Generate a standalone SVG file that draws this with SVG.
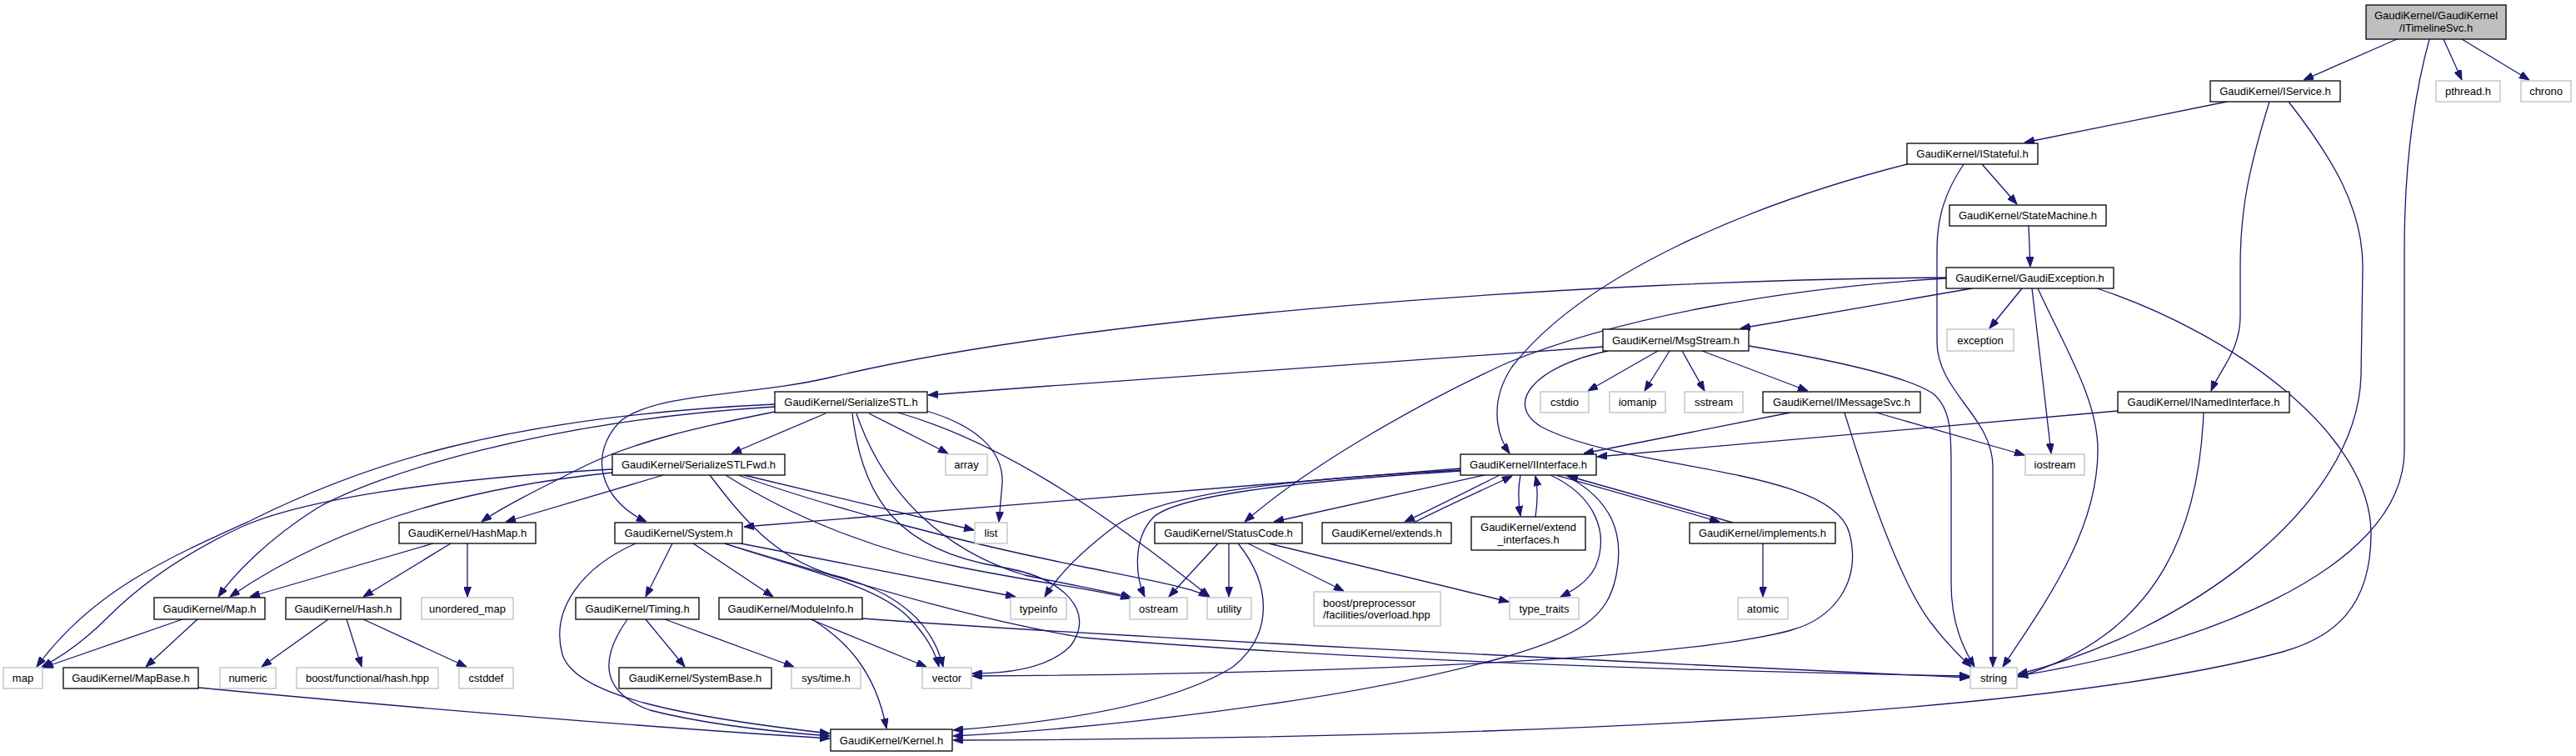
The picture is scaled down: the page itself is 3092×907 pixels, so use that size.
<svg xmlns="http://www.w3.org/2000/svg" width="3092" height="907" viewBox="0 0 3092 907">
<style>
.n rect{fill:#ffffff;stroke:#000000;stroke-width:1.3}
.x rect{fill:#ffffff;stroke:#bfbfbf;stroke-width:1.3}
.r rect{fill:#bfbfbf;stroke:#000000;stroke-width:1.3}
text{font-family:"Liberation Sans",Arial,Helvetica,sans-serif;font-size:13px;text-anchor:middle;fill:#000000}
text.l{text-anchor:start}
#edges path{fill:none;stroke:#191970;stroke-width:1.3}
</style>
<defs>
<marker id="a" viewBox="0 0 12 9" refX="12" refY="4.5" markerWidth="12" markerHeight="9" orient="auto" markerUnits="userSpaceOnUse">
<path d="M0,0 L12,4.5 L0,9 z" fill="#191970" stroke="#191970" stroke-width="1"/>
</marker>
</defs>
<rect x="0" y="0" width="3092" height="907" fill="#ffffff"/>
<g id="edges" marker-end="url(#a)">
<path d="M2877,47 L2765,96"/>
<path d="M2933,47 L2955,96"/>
<path d="M2955,47 L3036,96"/>
<path d="M2916,47 C2896,120 2886,200 2886,300 L2886,540 C2886,690 2620,780 2422,811"/>
<path d="M2673,122 L2430,171"/>
<path d="M2724,122 C2700,200 2689,250 2689,320 L2689,380 C2689,420 2664,445 2654,469"/>
<path d="M2747,122 C2800,190 2836,250 2836,320 L2834,450 C2830,610 2620,760 2422,809"/>
<path d="M2379,197 L2421,245"/>
<path d="M2289,197 C2100,245 1900,330 1815,440 C1788,480 1795,520 1812,544"/>
<path d="M2357,197 C2335,230 2325,260 2325,300 L2325,410 C2325,470 2392,500 2392,560 L2392,800"/>
<path d="M2435,271 L2437,320"/>
<path d="M2427,346 L2388,394"/>
<path d="M2439,346 C2445,400 2455,480 2462,544"/>
<path d="M2446,346 C2480,420 2518,480 2518,540 C2518,640 2450,730 2404,800"/>
<path d="M2517,346 C2680,400 2846,520 2846,640 C2846,730 2800,765 2740,782 C2450,860 1800,886 1144,888"/>
<path d="M2367,346 L2089,394"/>
<path d="M2336,334 C2150,345 1950,378 1810,435 C1700,485 1570,560 1494,626"/>
<path d="M2336,333 C1900,336 1300,380 1000,452 C900,476 790,470 745,505 C705,545 720,600 776,626"/>
<path d="M2043,421 L2170,469"/>
<path d="M1990,421 L1906,469"/>
<path d="M2004,421 L1974,469"/>
<path d="M2019,421 L2046,469"/>
<path d="M1924,416 C1700,432 1400,452 1114,474"/>
<path d="M2099,415 C2200,432 2290,452 2320,472 C2342,490 2342,520 2342,560 L2342,700 C2342,750 2358,780 2370,800"/>
<path d="M1930,421 C1840,440 1805,485 1850,512 C1950,565 2200,560 2220,640 C2235,700 2200,742 2150,756 C2000,797 1500,809 1167,811"/>
<path d="M2149,495 L1901,544"/>
<path d="M2252,495 L2430,546"/>
<path d="M2214,495 C2240,580 2280,700 2320,750 C2335,770 2350,785 2366,800"/>
<path d="M2542,493 L1917,548"/>
<path d="M2645,495 C2640,620 2600,760 2422,812"/>
<path d="M991,496 L878,544"/>
<path d="M1043,496 L1138,544"/>
<path d="M1112,493 C1170,510 1205,540 1203,580 L1199,626"/>
<path d="M1078,495 C1200,530 1320,610 1452,716"/>
<path d="M1023,496 C1035,600 1080,660 1200,680 C1280,693 1315,735 1285,775 C1255,805 1200,808 1167,808"/>
<path d="M1028,496 C1060,590 1130,660 1230,690 C1300,705 1335,710 1358,717"/>
<path d="M930,485 C600,500 430,560 300,625 C200,670 110,710 44,800"/>
<path d="M930,488 C650,505 450,570 380,610 C320,648 280,690 262,716"/>
<path d="M930,494 C840,512 760,530 700,560 C650,585 600,610 578,626"/>
<path d="M735,563 C520,575 360,600 288,633 C220,665 170,700 130,740 C100,770 70,790 50,800"/>
<path d="M735,567 C560,585 400,630 276,716"/>
<path d="M796,570 L607,626"/>
<path d="M852,570 C890,620 930,670 1000,690 C1080,710 1120,750 1132,800"/>
<path d="M871,570 C950,620 1050,660 1150,680 C1250,700 1320,708 1357,718"/>
<path d="M886,570 C1000,610 1150,650 1300,680 C1390,698 1430,705 1451,716"/>
<path d="M893,570 L1169,636"/>
<path d="M520,652 L300,716"/>
<path d="M541,652 L436,716"/>
<path d="M561,652 L561,716"/>
<path d="M219,743 L52,801"/>
<path d="M237,743 L175,800"/>
<path d="M394,743 L314,800"/>
<path d="M416,743 L434,800"/>
<path d="M436,743 L560,800"/>
<path d="M238,825 C500,850 800,874 996,886"/>
<path d="M763,652 C700,680 660,730 675,785 C690,835 820,860 996,880"/>
<path d="M753,743 C720,790 720,830 780,852 C850,870 930,878 996,883"/>
<path d="M807,652 L775,716"/>
<path d="M832,652 L928,716"/>
<path d="M775,743 L822,800"/>
<path d="M798,743 L953,800"/>
<path d="M973,743 L1112,800"/>
<path d="M975,743 C1010,765 1050,800 1064,874"/>
<path d="M1035,742 C1300,762 1900,792 2364,813"/>
<path d="M869,652 C1000,690 1150,740 1300,765 C1600,790 2000,805 2364,811"/>
<path d="M889,652 L1219,716"/>
<path d="M870,652 C950,680 1050,700 1090,740 C1110,760 1122,780 1127,800"/>
<path d="M1753,562 L893,632"/>
<path d="M1753,564 C1550,575 1400,590 1340,630 C1300,660 1270,690 1254,716"/>
<path d="M1753,565 C1600,575 1420,590 1385,620 C1360,645 1362,690 1374,716"/>
<path d="M1782,570 L1529,626"/>
<path d="M1800,570 C1760,590 1720,610 1686,626"/>
<path d="M1697,627 C1740,605 1780,588 1815,571"/>
<path d="M1825,570 C1822,585 1822,600 1825,619"/>
<path d="M1843,620 C1846,600 1846,585 1843,571"/>
<path d="M1868,570 L2064,626"/>
<path d="M2080,627 L1882,571"/>
<path d="M1861,570 C1915,595 1932,640 1915,680 C1905,700 1885,710 1873,716"/>
<path d="M1879,570 C1935,600 1950,640 1940,690 C1930,740 1900,762 1800,790 C1600,845 1300,875 1144,883"/>
<path d="M2116,652 L2116,716"/>
<path d="M1462,652 L1403,716"/>
<path d="M1475,652 L1475,716"/>
<path d="M1498,652 L1613,709"/>
<path d="M1523,652 L1811,722"/>
<path d="M1486,652 C1525,700 1530,760 1480,800 C1400,850 1250,868 1144,876"/>
</g>
<g id="node1" class="r"><rect x="2840" y="6" width="168" height="41"/><text x="2924" y="23">GaudiKernel/GaudiKernel</text><text x="2924" y="37.5">/ITimelineSvc.h</text></g>
<g id="node2" class="n"><rect x="2653" y="97" width="156" height="25"/><text x="2731" y="114">GaudiKernel/IService.h</text></g>
<g id="node3" class="x"><rect x="2924" y="97" width="77" height="25"/><text x="2962.5" y="114">pthread.h</text></g>
<g id="node4" class="x"><rect x="3026" y="97" width="60" height="25"/><text x="3056" y="114">chrono</text></g>
<g id="node5" class="n"><rect x="2289" y="172" width="157" height="25"/><text x="2367.5" y="189">GaudiKernel/IStateful.h</text></g>
<g id="node6" class="n"><rect x="2340" y="246" width="188" height="25"/><text x="2434" y="263">GaudiKernel/StateMachine.h</text></g>
<g id="node7" class="n"><rect x="2336" y="321" width="201" height="25"/><text x="2436.5" y="338">GaudiKernel/GaudiException.h</text></g>
<g id="node8" class="x"><rect x="2337" y="395" width="80" height="26"/><text x="2377" y="412.5">exception</text></g>
<g id="node9" class="n"><rect x="1924" y="395" width="175" height="26"/><text x="2011.5" y="412.5">GaudiKernel/MsgStream.h</text></g>
<g id="node10" class="n"><rect x="930" y="470" width="183" height="25"/><text x="1021.5" y="487">GaudiKernel/SerializeSTL.h</text></g>
<g id="node11" class="x"><rect x="1849" y="470" width="58" height="25"/><text x="1878" y="487">cstdio</text></g>
<g id="node12" class="x"><rect x="1932" y="470" width="67" height="25"/><text x="1965.5" y="487">iomanip</text></g>
<g id="node13" class="x"><rect x="2022" y="470" width="70" height="25"/><text x="2057" y="487">sstream</text></g>
<g id="node14" class="n"><rect x="2116" y="470" width="189" height="25"/><text x="2210.5" y="487">GaudiKernel/IMessageSvc.h</text></g>
<g id="node15" class="n"><rect x="2542" y="470" width="206" height="25"/><text x="2645" y="487">GaudiKernel/INamedInterface.h</text></g>
<g id="node16" class="n"><rect x="735" y="545" width="207" height="25"/><text x="838.5" y="562">GaudiKernel/SerializeSTLFwd.h</text></g>
<g id="node17" class="x"><rect x="1135" y="545" width="50" height="25"/><text x="1160" y="562">array</text></g>
<g id="node18" class="n"><rect x="1753" y="545" width="163" height="25"/><text x="1834.5" y="562">GaudiKernel/IInterface.h</text></g>
<g id="node19" class="x"><rect x="2431" y="545" width="71" height="25"/><text x="2466.5" y="562">iostream</text></g>
<g id="node20" class="n"><rect x="479" y="627" width="164" height="25"/><text x="561" y="644">GaudiKernel/HashMap.h</text></g>
<g id="node21" class="n"><rect x="738" y="627" width="153" height="25"/><text x="814.5" y="644">GaudiKernel/System.h</text></g>
<g id="node22" class="x"><rect x="1170" y="627" width="39" height="25"/><text x="1189.5" y="644">list</text></g>
<g id="node23" class="n"><rect x="1386" y="627" width="177" height="25"/><text x="1474.5" y="644">GaudiKernel/StatusCode.h</text></g>
<g id="node24" class="n"><rect x="1587" y="627" width="155" height="25"/><text x="1664.5" y="644">GaudiKernel/extends.h</text></g>
<g id="node25" class="n"><rect x="1766" y="620" width="137" height="40"/><text x="1834.5" y="637">GaudiKernel/extend</text><text x="1834.5" y="652">_interfaces.h</text></g>
<g id="node26" class="n"><rect x="2028" y="627" width="175" height="25"/><text x="2115.5" y="644">GaudiKernel/implements.h</text></g>
<g id="node27" class="n"><rect x="185" y="717" width="133" height="26"/><text x="251.5" y="734.5">GaudiKernel/Map.h</text></g>
<g id="node28" class="n"><rect x="343" y="717" width="138" height="26"/><text x="412" y="734.5">GaudiKernel/Hash.h</text></g>
<g id="node29" class="x"><rect x="506" y="717" width="110" height="26"/><text x="561" y="734.5">unordered_map</text></g>
<g id="node30" class="n"><rect x="691" y="717" width="148" height="26"/><text x="765" y="734.5">GaudiKernel/Timing.h</text></g>
<g id="node31" class="n"><rect x="863" y="717" width="172" height="26"/><text x="949" y="734.5">GaudiKernel/ModuleInfo.h</text></g>
<g id="node32" class="x"><rect x="1213" y="717" width="67" height="26"/><text x="1246.5" y="734.5">typeinfo</text></g>
<g id="node33" class="x"><rect x="1356" y="717" width="69" height="26"/><text x="1390.5" y="734.5">ostream</text></g>
<g id="node34" class="x"><rect x="1449" y="717" width="53" height="26"/><text x="1475.5" y="734.5">utility</text></g>
<g id="node35" class="x"><rect x="1577" y="710" width="152" height="41"/><text class="l" x="1588" y="727.5">boost/preprocessor</text><text class="l" x="1588" y="742">/facilities/overload.hpp</text></g>
<g id="node36" class="x"><rect x="1812" y="717" width="83" height="26"/><text x="1853.5" y="734.5">type_traits</text></g>
<g id="node37" class="x"><rect x="2086" y="717" width="60" height="26"/><text x="2116" y="734.5">atomic</text></g>
<g id="node38" class="x"><rect x="4" y="801" width="47" height="25"/><text x="27.5" y="818">map</text></g>
<g id="node39" class="n"><rect x="76" y="801" width="162" height="25"/><text x="157" y="818">GaudiKernel/MapBase.h</text></g>
<g id="node40" class="x"><rect x="264" y="801" width="67" height="25"/><text x="297.5" y="818">numeric</text></g>
<g id="node41" class="x"><rect x="356" y="801" width="170" height="25"/><text x="441" y="818">boost/functional/hash.hpp</text></g>
<g id="node42" class="x"><rect x="551" y="801" width="65" height="25"/><text x="583.5" y="818">cstddef</text></g>
<g id="node43" class="n"><rect x="743" y="801" width="183" height="25"/><text x="834.5" y="818">GaudiKernel/SystemBase.h</text></g>
<g id="node44" class="x"><rect x="950" y="801" width="83" height="25"/><text x="991.5" y="818">sys/time.h</text></g>
<g id="node45" class="x"><rect x="1107" y="801" width="59" height="25"/><text x="1136.5" y="818">vector</text></g>
<g id="node46" class="x"><rect x="2365" y="801" width="56" height="25"/><text x="2393" y="818">string</text></g>
<g id="node47" class="n"><rect x="997" y="875" width="146" height="26"/><text x="1070" y="892.5">GaudiKernel/Kernel.h</text></g>
</svg>
